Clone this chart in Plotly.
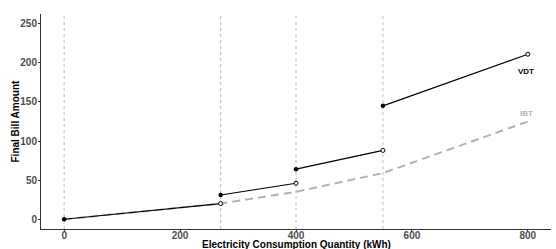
import plotly.graph_objects as go

# Data
thresholds = [0, 270, 400, 550]
vdt_seg_start_x = [0, 270, 400, 550]
vdt_seg_end_x = [270, 400, 550, 800]
vdt_seg_start_y = [0, 31, 64, 145]
vdt_seg_end_y = [20, 46, 88, 211]
ibt_x = [0, 270, 400, 550, 800]
ibt_y = [0, 20, 35, 59, 125]
x_ticks = [0, 200, 400, 600, 800]
y_ticks = [0, 50, 100, 150, 200, 250]

fig = go.Figure()

# IBT dashed grey line
fig.add_trace(go.Scatter(
    x=ibt_x, y=ibt_y, mode="lines",
    line=dict(color="#b3b3b3", width=2, dash="8px,5px"),
    showlegend=False, hoverinfo="skip"))

# VDT segments
seg_x, seg_y = [], []
for xs, xe, ys, ye in zip(vdt_seg_start_x, vdt_seg_end_x, vdt_seg_start_y, vdt_seg_end_y):
    seg_x += [xs, xe, None]
    seg_y += [ys, ye, None]
fig.add_trace(go.Scatter(
    x=seg_x, y=seg_y, mode="lines",
    line=dict(color="black", width=1.2),
    showlegend=False, hoverinfo="skip"))

# open circles at segment ends
fig.add_trace(go.Scatter(
    x=vdt_seg_end_x, y=vdt_seg_end_y, mode="markers",
    marker=dict(symbol="circle", color="white", size=4, line=dict(width=1, color="black")),
    showlegend=False, hoverinfo="skip"))
# filled circles at segment starts
fig.add_trace(go.Scatter(
    x=vdt_seg_start_x, y=vdt_seg_start_y, mode="markers",
    marker=dict(symbol="circle", color="black", size=4.5),
    showlegend=False, hoverinfo="skip"))

for t in thresholds:
    fig.add_shape(type="line", xref="x", yref="paper", x0=t, x1=t, y0=0, y1=1,
                  line=dict(color="#8f8f8f", width=0.6, dash="3px,3px"), layer="below")

fig.add_annotation(x=vdt_seg_end_x[-1], y=vdt_seg_end_y[-1], text="<b>VDT</b>",
                   showarrow=False, xshift=-2, yshift=-17,
                   font=dict(family="Liberation Sans, Arial", size=8, color="black"))
fig.add_annotation(x=ibt_x[-1], y=ibt_y[-1], text="<b>IBT</b>",
                   showarrow=False, xshift=-1, yshift=8,
                   font=dict(family="Liberation Sans, Arial", size=8, color="#b3b3b3"))

# axis titles
fig.add_annotation(xref="paper", yref="paper", x=0.5, y=0, yanchor="middle", yshift=-15.5,
                   text="<b>Electricity Consumption Quantity (kWh)</b>", showarrow=False,
                   font=dict(family="Liberation Sans, Arial", size=10, color="black"))
fig.add_annotation(xref="paper", yref="paper", x=0, y=0.5, xanchor="center", xshift=-26,
                   textangle=-90, text="<b>Final Bill Amount</b>", showarrow=False,
                   font=dict(family="Liberation Sans, Arial", size=10, color="black"))

tickfont = dict(family="Liberation Sans, Arial", size=10, color="#4d4d4d")
fig.update_xaxes(range=[-40, 840], tickvals=x_ticks, ticktext=[f"<b>{v}</b>" for v in x_ticks],
                 showgrid=False, zeroline=False, showline=True, linecolor="#333333", linewidth=1,
                 ticks="outside", ticklen=2, tickcolor="#333333", tickwidth=0.8,
                 ticklabelstandoff=-5, tickfont=tickfont, automargin=False)
fig.update_yaxes(range=[-12.5, 262.5], tickvals=y_ticks, ticktext=[f"<b>{v}</b>" for v in y_ticks],
                 showgrid=False, zeroline=False, showline=True, linecolor="#333333", linewidth=1,
                 ticks="outside", ticklen=2, tickcolor="#333333", tickwidth=0.8,
                 ticklabelstandoff=-1, tickfont=tickfont, automargin=False)

fig.update_layout(width=556, height=249, margin=dict(l=41, r=5, t=14, b=20),
                  plot_bgcolor="white", paper_bgcolor="white")

fig.write_html("out.html", config={"displayModeBar": False},
               post_script="document.body.style.margin='0px';document.body.style.overflow='hidden';")
